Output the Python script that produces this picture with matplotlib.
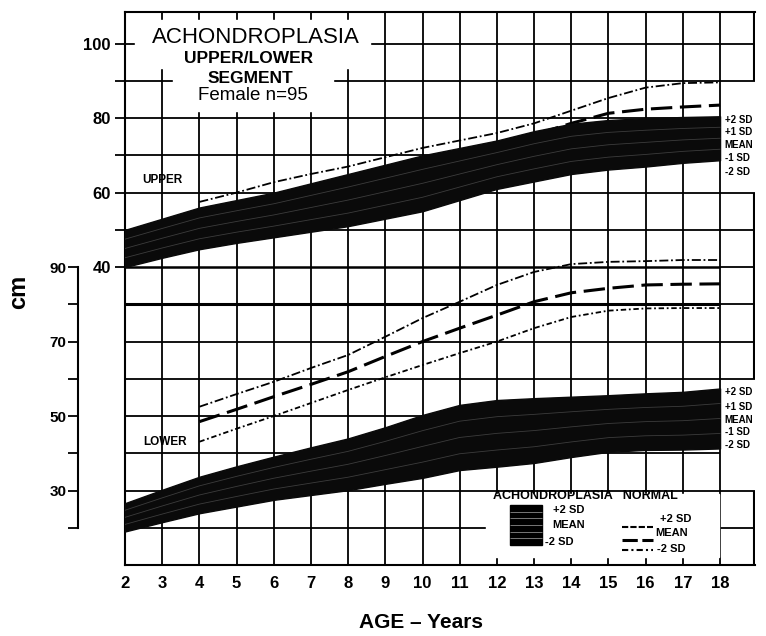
import numpy as np
import matplotlib.pyplot as plt
from matplotlib.patches import Rectangle

plt.rcParams['font.family'] = ['Liberation Sans', 'DejaVu Sans']

# achondroplasia bands (cm)
ages = [2, 3, 4, 5, 6, 7, 8, 9, 10, 11, 12, 13, 14, 15, 16, 17, 18]
upper_top = [50, 53, 56, 58, 60, 62.5, 65, 67.5, 70, 72, 74, 76.5, 78.5, 79.5, 80, 80.3, 80.5]
upper_bottom = [40, 42.5, 44.8, 46.5, 48, 49.5, 51, 53, 55, 58, 61, 63, 65, 66.2, 67, 68, 68.7]
lower_top = [26.6, 30.2, 33.7, 36.5, 39.1, 41.6, 44, 47, 50.3, 53, 54.3, 54.8, 55.2, 55.6, 56.1, 56.5, 57.4]
lower_bottom = [19, 21.5, 23.9, 25.7, 27.5, 28.8, 30.1, 31.8, 33.4, 35.5, 36.4, 37.4, 39, 40.4, 40.9, 41, 41.3]

# normal curves (cm)
norm_ages = [4, 5, 6, 7, 8, 9, 10, 11, 12, 13, 14, 15, 16, 17, 18]
upper_p2 = [57.5, 60, 62.8, 65, 67, 69.5, 72, 74, 76, 78.6, 82, 85.4, 88.2, 89.4, 89.6]
upper_mean = [54, 56.5, 59, 61.5, 63.5, 66, 68.5, 70.5, 72.5, 75.5, 78.6, 81.3, 82.4, 83, 83.5]
upper_m2 = [50.5, 53, 55.2, 57.5, 59.5, 62, 64, 66, 68, 70.5, 73.5, 76, 77, 77.5, 78]
lower_p2 = [52.5, 55.9, 59.2, 62.9, 66.4, 71.3, 76.3, 80.7, 85.2, 88.7, 90.8, 91.4, 91.6, 91.9, 91.9]
lower_mean = [48.5, 51.8, 55.2, 58.5, 61.9, 66, 70, 73.6, 77.1, 80.7, 83.1, 84.3, 85.2, 85.4, 85.5]
lower_m2 = [43.1, 46.6, 50, 53.5, 57, 60.4, 63.7, 66.9, 70, 73.6, 76.6, 78.3, 78.9, 79, 79]

# the upper segment scale sits 50 cm above the lower one
OFFSET = 50

sd_labels = ['+2 SD', '+1 SD', 'MEAN', '-1 SD', '-2 SD']

fig = plt.figure(figsize=(7.66, 6.36), dpi=100)
ax = fig.add_axes([125 / 766, 1 - 565 / 636, 630 / 766, 553 / 636])
x_right = 2 + 630 / 37.19
ax.set_xlim(2, x_right)
ax.set_ylim(10, 158.5)

for s in ['left', 'bottom', 'top']:
    ax.spines[s].set_linewidth(1.5)
ax.spines['right'].set_visible(False)

# grid
ax.vlines(range(3, 19), 10, 158.5, color='k', lw=1.3, zorder=1)
grid_y = list(range(20, 151, 10))
widths = [2.2 if g == 80 else 1.8 if g == 90 else 1.3 for g in grid_y]
ax.hlines(grid_y, 2, 18, color='k', lw=widths, zorder=1)
ax.hlines([20, 30, 60, 70, 80, 90, 100, 110, 140, 150], 18, x_right, color='k', lw=1.3, zorder=1)
ax.vlines([x_right - 0.03] * 3, [10, 60, 140], [30, 110, 158.5], color='k', lw=1.5, zorder=1)

# normal curves
ls_p2 = (0, (5, 1.5, 1, 1.5))
ls_mean = (0, (7, 2.5))
ls_m2 = (0, (3, 1.5, 1, 1.5))
up = lambda v: np.array(v) + OFFSET
ax.plot(norm_ages, up(upper_p2), color='k', lw=1.3, ls=ls_p2, zorder=2)
ax.plot(norm_ages, up(upper_mean), color='k', lw=2.2, ls=ls_mean, zorder=2)
ax.plot(norm_ages, up(upper_m2), color='k', lw=1.3, ls=ls_m2, zorder=2)
ax.plot(norm_ages, lower_p2, color='k', lw=1.3, ls=ls_p2, zorder=2)
ax.plot(norm_ages, lower_mean, color='k', lw=2.2, ls=ls_mean, zorder=2)
ax.plot(norm_ages, lower_m2, color='k', lw=1.3, ls=ls_m2, zorder=2)

# achondroplasia bands
ax.fill_between(ages, up(upper_bottom), up(upper_top), color='#0a0a0a', lw=1, zorder=3)
ax.fill_between(ages, lower_bottom, lower_top, color='#0a0a0a', lw=1, zorder=3)
for frac in [0.25, 0.5, 0.75]:
    ub = up(upper_bottom) + frac * (up(upper_top) - up(upper_bottom))
    lb = np.array(lower_bottom) + frac * (np.array(lower_top) - np.array(lower_bottom))
    ax.plot(ages, ub, color='#3c3c3c', lw=0.6, zorder=3)
    ax.plot(ages, lb, color='#3c3c3c', lw=0.6, zorder=3)

# title block
ax.add_patch(Rectangle((2.27, 143.5), 6.32, 12.8, color='white', zorder=4))
ax.add_patch(Rectangle((3.29, 132), 4.3, 11.6, color='white', zorder=4))
ax.text(5.52, 151.7, 'ACHONDROPLASIA', ha='center', va='center', fontsize=16, zorder=5)
ax.text(5.31, 146.1, 'UPPER/LOWER', ha='center', va='center', fontsize=12.5, fontweight='bold', zorder=5)
ax.text(5.36, 140.7, 'SEGMENT', ha='center', va='center', fontsize=12.5, fontweight='bold', zorder=5)
ax.text(5.44, 136.2, 'Female n=95', ha='center', va='center', fontsize=13.5, zorder=5)

ax.text(3.0, 113.4, 'UPPER', ha='center', va='center', fontsize=8.5, fontweight='bold')
ax.text(3.08, 43, 'LOWER', ha='center', va='center', fontsize=8.5, fontweight='bold')

# SD labels at the right end of the bands
for lab, yu, yl in zip(sd_labels, [129.5, 126.2, 122.8, 119.3, 115.5], [56.4, 52.4, 48.9, 45.7, 42.2]):
    ax.text(18.13, yu, lab, ha='left', va='center', fontsize=7, fontweight='bold')
    ax.text(18.13, yl, lab, ha='left', va='center', fontsize=7, fontweight='bold')

# key
ax.add_patch(Rectangle((11.7, 12.2), 6.27, 17.0, color='white', zorder=4))
ax.text(14.37, 28.6, 'ACHONDROPLASIA   NORMAL', ha='center', va='center', fontsize=9,
        fontweight='bold', zorder=5)
ax.add_patch(Rectangle((12.35, 15.4), 0.86, 10.7, color='k', zorder=5))
ax.hlines(np.linspace(17.2, 24.3, 5), 12.35, 13.21, color='#777777', lw=0.7, zorder=6)
ax.text(13.5, 24.8, '+2 SD', ha='left', va='center', fontsize=8, fontweight='bold', zorder=5)
ax.text(13.5, 20.7, 'MEAN', ha='left', va='center', fontsize=8, fontweight='bold', zorder=5)
ax.text(13.3, 16.2, '-2 SD', ha='left', va='center', fontsize=8, fontweight='bold', zorder=5)
ax.plot([15.36, 16.2], [20.2, 20.2], color='k', lw=1.5, ls=(0, (3, 1)), zorder=5)
ax.plot([15.36, 16.2], [16.7, 16.7], color='k', lw=2.2, ls=(0, (5, 1.5)), zorder=5)
ax.plot([15.36, 16.2], [14.0, 14.0], color='k', lw=1.5, ls=ls_m2, zorder=5)
ax.text(16.39, 22.3, '+2 SD', ha='left', va='center', fontsize=8, fontweight='bold', zorder=5)
ax.text(16.25, 18.7, 'MEAN', ha='left', va='center', fontsize=8, fontweight='bold', zorder=5)
ax.text(16.3, 14.3, '-2 SD', ha='left', va='center', fontsize=8, fontweight='bold', zorder=5)

# axes ticks
ax.set_xticks(range(2, 19))
ax.set_xticklabels([str(a) for a in range(2, 19)], fontsize=12, fontweight='bold')
ax.tick_params(axis='x', length=0, pad=8)
ax.set_yticks(range(90, 151, 10))
ax.set_yticklabels(['40', '', '60', '', '80', '', '100'], fontsize=12, fontweight='bold')
ax.tick_params(axis='y', length=7.2, width=1.3, pad=3)

ax2 = ax.twinx()
ax2.set_ylim(ax.get_ylim())
for s in ['right', 'top', 'bottom']:
    ax2.spines[s].set_visible(False)
ax2.yaxis.set_ticks_position('left')
ax2.spines['left'].set_position(('outward', 47 * 0.72))
ax2.spines['left'].set_bounds(20, 90)
ax2.spines['left'].set_linewidth(1.5)
ax2.set_yticks(range(20, 91, 10))
ax2.set_yticklabels(['', '30', '', '50', '', '70', '', '90'], fontsize=11, fontweight='bold')
ax2.tick_params(axis='y', length=7.2, width=1.3, pad=1)

fig.text(19 / 766, 1 - 292 / 636, 'cm', rotation=90, ha='center', va='center', fontsize=17, fontweight='bold')
fig.text(421 / 766, 1 - 623 / 636, 'AGE \u2013 Years', ha='center', va='center', fontsize=15, fontweight='bold')

fig.savefig('out.png', dpi=100)
